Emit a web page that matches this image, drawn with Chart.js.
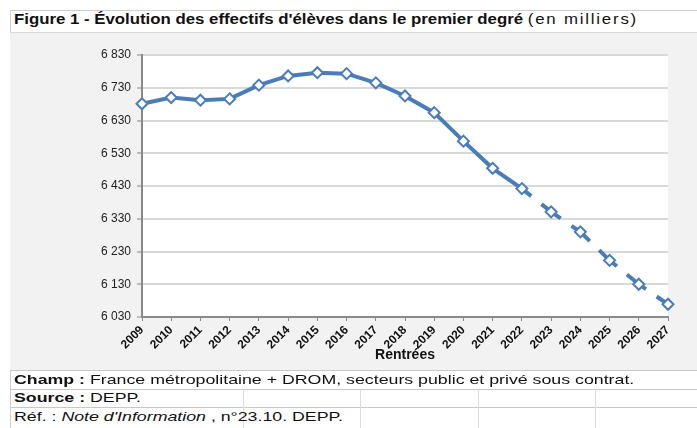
<!DOCTYPE html>
<html>
<head>
<meta charset="utf-8">
<script src="https://cdn.jsdelivr.net/npm/chart.js@4.4.1/dist/chart.umd.min.js"></script>
<style>
  html, body { margin:0; padding:0; background:#fff; width:697px; height:428px; overflow:hidden; font-family:"Liberation Sans", Arial, sans-serif; }
  #frame { position:absolute; left:10px; top:10px; width:687px; height:418px; border-left:1px solid #cfcfcf; border-top:1px solid #cfcfcf; }
  #title { position:absolute; left:14px; top:11px; font-size:14px; font-weight:bold; color:#111; white-space:nowrap; transform:scaleX(1.2); transform-origin:0 0; }
  #title span { font-weight:normal; letter-spacing:1.5px; }
  #chartbox { position:absolute; left:10px; top:32px; width:687px; height:338px; background:#f2f2f2; border-top:1px solid #dadada; }
  canvas { position:absolute; left:0; top:0; }
  .row { position:absolute; left:14px; font-size:13px; color:#111; white-space:nowrap; transform:scaleX(1.366); transform-origin:0 0; }
  .hline { position:absolute; left:10px; width:687px; height:1px; background:#c8c8c8; }
  .vline { position:absolute; width:1px; background:#dcdcdc; }
</style>
</head>
<body>
<div id="frame"></div>
<div id="title">Figure 1 - Évolution des effectifs d'élèves dans le premier degré <span>(en milliers)</span></div>
<div id="chartbox"><canvas id="c" width="687" height="338"></canvas></div>
<div class="hline" style="top:370px"></div>
<div class="hline" style="top:389px"></div>
<div class="hline" style="top:407px"></div>
<div class="vline" style="left:243px;top:389px;height:39px"></div>
<div class="vline" style="left:360px;top:389px;height:39px"></div>
<div class="vline" style="left:478px;top:389px;height:39px"></div>
<div class="vline" style="left:595px;top:389px;height:39px"></div>
<div class="row" style="top:372px"><b>Champ :</b> France métropolitaine + DROM, secteurs public et privé sous contrat.</div>
<div class="row" style="top:390px"><b>Source :</b> DEPP.</div>
<div class="row" style="top:409px">Réf. : <i>Note d'Information</i> , n°23.10. DEPP.</div>
<script>
const years = ["2009","2010","2011","2012","2013","2014","2015","2016","2017","2018","2019","2020","2021","2022","2023","2024","2025","2026","2027"];
const effectifs = [6681, 6700, 6692, 6696, 6738, 6766, 6776, 6773, 6745, 6705, 6654, 6567, 6484, 6422, 6351, 6290, 6203, 6130, 6069];
const yTicks = [6030, 6130, 6230, 6330, 6430, 6530, 6630, 6730, 6830];
const firstProjectedIndex = 13; // 2022 -> projections after

const blue = '#4a7cb8';
function fmt(v){ return Math.floor(v/1000) + ' ' + String(v % 1000).padStart(3,'0'); }

const plotBg = {
  id: 'plotBg',
  beforeDraw(chart) {
    const a = chart.chartArea, ctx = chart.ctx;
    ctx.save();
    ctx.fillStyle = '#ffffff';
    ctx.fillRect(a.left, a.top, a.right - a.left, a.bottom - a.top);
    ctx.restore();
  }
};

new Chart(document.getElementById('c'), {
  type: 'line',
  plugins: [plotBg],
  data: {
    labels: years,
    datasets: [{
      data: effectifs,
      borderColor: blue,
      borderWidth: 4,
      pointStyle: 'rectRot',
      pointRadius: 5.5,
      pointBorderWidth: 2,
      pointBackgroundColor: '#fff',
      pointBorderColor: blue,
      tension: 0,
      segment: {
        borderDash: ctx => ctx.p0DataIndex >= firstProjectedIndex ? [24, 13] : undefined,
        borderDashOffset: ctx => ctx.p0DataIndex >= firstProjectedIndex ? 12 : 0
      }
    }]
  },
  options: {
    responsive: false,
    devicePixelRatio: 1,
    animation: false,
    layout: { padding: { top: 22, right: 29, left: 0, bottom: 0 } },
    plugins: { legend: { display: false }, tooltip: { enabled: false } },
    scales: {
      y: {
        min: 6030, max: 6830,
        afterBuildTicks: s => { s.ticks = yTicks.map(v => ({ value: v })); },
        afterFit: s => { s.width = 132; },
        ticks: { callback: v => fmt(v), color: '#222', font: { family: 'Liberation Sans', size: 12 }, padding: 6 },
        grid: { color: '#d9d9d9', lineWidth: 2, tickColor: '#888', tickLength: 5, tickWidth: 1 },
        border: { color: '#8a8a8a', width: 2 }
      },
      x: {
        offset: false,
        afterFit: s => { s.height = 54; },
        ticks: { maxRotation: 45, minRotation: 45, autoSkip: false, color: '#111', font: { family: 'Liberation Sans', size: 12, weight: 'bold' }, padding: 2 },
        grid: { drawOnChartArea: false, color: '#888', tickLength: 4 },
        border: { color: '#8a8a8a', width: 2 },
        title: { display: true, text: 'Rentrées', color: '#111', font: { family: 'Liberation Sans', size: 14, weight: 'bold' }, padding: { top: 0, bottom: 7 } }
      }
    }
  }
});
</script>
</body>
</html>
